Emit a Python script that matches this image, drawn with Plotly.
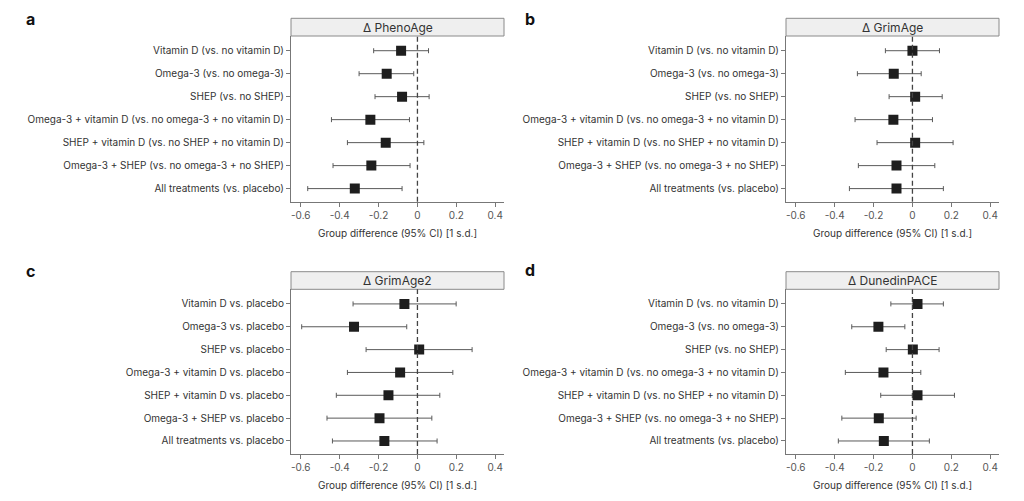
import plotly.graph_objects as go

W, H = 1024, 501

labels_ab = [
    "Vitamin D (vs. no vitamin D)",
    "Omega-3 (vs. no omega-3)",
    "SHEP (vs. no SHEP)",
    "Omega-3 + vitamin D (vs. no omega-3 + no vitamin D)",
    "SHEP + vitamin D (vs. no SHEP + no vitamin D)",
    "Omega-3 + SHEP (vs. no omega-3 + no SHEP)",
    "All treatments (vs. placebo)",
]
labels_c = [
    "Vitamin D vs. placebo",
    "Omega-3 vs. placebo",
    "SHEP vs. placebo",
    "Omega-3 + vitamin D vs. placebo",
    "SHEP + vitamin D vs. placebo",
    "Omega-3 + SHEP vs. placebo",
    "All treatments vs. placebo",
]

pheno_est = [-0.084, -0.158, -0.079, -0.242, -0.163, -0.237, -0.322]
pheno_lo = [-0.225, -0.300, -0.218, -0.442, -0.360, -0.434, -0.564]
pheno_hi = [0.057, -0.019, 0.060, -0.041, 0.033, -0.038, -0.079]

grim_est = [0.000, -0.096, 0.014, -0.098, 0.014, -0.082, -0.082]
grim_lo = [-0.139, -0.283, -0.120, -0.295, -0.182, -0.278, -0.324]
grim_hi = [0.139, 0.045, 0.153, 0.103, 0.209, 0.115, 0.159]

grim2_est = [-0.067, -0.326, 0.009, -0.089, -0.149, -0.195, -0.170]
grim2_lo = [-0.331, -0.595, -0.264, -0.360, -0.417, -0.465, -0.437]
grim2_hi = [0.199, -0.055, 0.281, 0.182, 0.115, 0.074, 0.101]

dpace_est = [0.026, -0.175, 0.002, -0.149, 0.026, -0.173, -0.147]
dpace_lo = [-0.111, -0.312, -0.135, -0.345, -0.163, -0.363, -0.381]
dpace_hi = [0.159, -0.039, 0.137, 0.043, 0.216, 0.019, 0.087]

xtick_vals = [-0.6, -0.4, -0.2, 0, 0.2, 0.4]
xtick_text = ["-0.6", "-0.4", "-0.2", "0", "0.2", "0.4"]

panels = [
    dict(letter="a", title="\u0394 PhenoAge", labels=labels_ab, est=pheno_est, lo=pheno_lo, hi=pheno_hi,
         px=(291, 504), py=(36, 201.7), hdr=18.3, lx=24, ly=19),
    dict(letter="b", title="\u0394 GrimAge", labels=labels_ab, est=grim_est, lo=grim_lo, hi=grim_hi,
         px=(786, 999), py=(36, 201.7), hdr=18.3, lx=523, ly=19),
    dict(letter="c", title="\u0394 GrimAge2", labels=labels_c, est=grim2_est, lo=grim2_lo, hi=grim2_hi,
         px=(291, 504), py=(289.3, 454), hdr=271.7, lx=24, ly=271),
    dict(letter="d", title="\u0394 DunedinPACE", labels=labels_ab, est=dpace_est, lo=dpace_lo, hi=dpace_hi,
         px=(786, 999), py=(289.3, 454), hdr=271.7, lx=523, ly=270),
]

FONT = "Inter, Roboto, Arial, sans-serif"
AXC = "#777777"
TXT = "#333333"

fig = go.Figure()
shapes = []
annotations = []
layout_axes = {}

def fx(p):
    return p / W

def fy(p):
    return 1 - p / H

for i, p in enumerate(panels):
    n = i + 1
    xa = "x" if n == 1 else f"x{n}"
    ya = "y" if n == 1 else f"y{n}"
    xkey = "xaxis" if n == 1 else f"xaxis{n}"
    ykey = "yaxis" if n == 1 else f"yaxis{n}"
    plus = [h - e for h, e in zip(p["hi"], p["est"])]
    minus = [e - l for e, l in zip(p["est"], p["lo"])]
    fig.add_trace(go.Scatter(
        x=p["est"], y=p["labels"], mode="markers",
        marker=dict(symbol="square", size=10, color="#1e1e1e", line=dict(width=0)),
        error_x=dict(type="data", symmetric=False, array=plus, arrayminus=minus,
                     color="#5a5a5a", thickness=1, width=2.5),
        xaxis=xa, yaxis=ya, showlegend=False, hoverinfo="x+y",
    ))
    layout_axes[xkey] = dict(
        domain=[fx(p["px"][0]), fx(p["px"][1])], anchor=ya,
        range=[-0.65, 0.445], tickvals=xtick_vals, ticktext=xtick_text,
        showgrid=False, zeroline=False, showline=True, linecolor=AXC, linewidth=1,
        ticks="outside", ticklen=4, tickcolor=AXC,
        tickfont=dict(family=FONT, size=10, color="#555555"),
    )
    layout_axes[ykey] = dict(
        domain=[fy(p["py"][1]), fy(p["py"][0])], anchor=xa,
        type="category", categoryorder="array", categoryarray=p["labels"],
        range=[6.57, -0.64],
        showgrid=False, zeroline=False, showline=True, linecolor=AXC, linewidth=1,
        ticks="outside", ticklen=4, tickcolor=AXC,
        tickfont=dict(family=FONT, size=10, color=TXT),
    )
    # zero reference line
    shapes.append(dict(type="line", xref=xa, yref=f"{ya} domain", x0=0, x1=0, y0=0, y1=1,
                       line=dict(color="#444444", width=1.3, dash="5px,3px")))
    # header strip
    shapes.append(dict(type="rect", xref="paper", yref="paper",
                       x0=fx(p["px"][0]), x1=fx(p["px"][1]), y0=fy(p["py"][0]), y1=fy(p["hdr"]),
                       fillcolor="#efefef", line=dict(color="#8a8a8a", width=1), layer="below"))
    annotations.append(dict(xref="paper", yref="paper",
                            x=fx((p["px"][0] + p["px"][1]) / 2), y=fy((p["py"][0] + p["hdr"]) / 2),
                            text=p["title"], showarrow=False, xanchor="center", yanchor="middle",
                            font=dict(family=FONT, size=12, color=TXT)))
    # x-axis title
    annotations.append(dict(xref="paper", yref="paper",
                            x=fx((p["px"][0] + p["px"][1]) / 2), y=fy(p["py"][1] + 31),
                            text="Group difference (95% CI) [1 s.d.]", showarrow=False,
                            xanchor="center", yanchor="middle",
                            font=dict(family=FONT, size=10, color=TXT)))
    # panel letter
    annotations.append(dict(xref="paper", yref="paper", x=fx(p["lx"]), y=fy(p["ly"]),
                            text=f"<b>{p['letter']}</b>", showarrow=False,
                            xanchor="left", yanchor="middle",
                            font=dict(family=FONT, size=16, color="#111111")))

fig.update_layout(
    width=W, height=H, margin=dict(l=0, r=0, t=0, b=0),
    paper_bgcolor="white", plot_bgcolor="white",
    shapes=shapes, annotations=annotations, showlegend=False,
    **layout_axes,
)

fig.write_html("out.html")
